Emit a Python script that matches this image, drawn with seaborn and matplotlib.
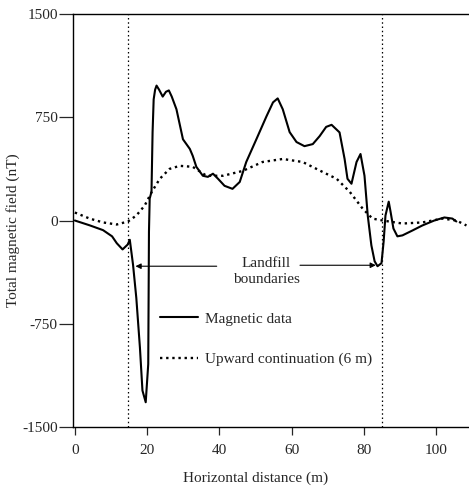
import matplotlib
matplotlib.use("Agg")
import matplotlib.pyplot as plt
import seaborn as sns
import pandas as pd

# ---- data ----
mag_x = [0, 4.1, 7.8, 10.3, 11.6, 13.2, 14.6, 15.2, 16.1, 17.0, 18.0, 18.7, 19.6,
         20.3, 20.4, 20.5, 20.7, 21.2, 21.5, 21.8, 22.2, 22.6, 23.3, 24.3, 25.2, 26.0,
         26.8, 28.1, 29.9, 31.8, 32.6, 33.6, 35.4, 36.8, 38.2, 39.6, 41.4, 43.6, 45.6,
         47.4, 50.2, 53.0, 54.8, 56.1, 57.5, 59.4, 61.3, 63.5, 65.8, 67.7, 69.5, 71.0,
         73.2, 74.6, 75.4, 76.5, 77.9, 79.0, 80.1, 81.0, 82.0, 82.9, 83.7, 84.8, 85.4,
         85.9, 86.8, 87.3, 88.1, 89.2, 90.6, 93.4, 96.1, 99.4, 102.2, 104.4, 105.5]
mag_y = [0, -35, -70, -115, -165, -210, -175, -140, -322, -562, -923, -1235, -1320,
         -1043, -562, -82, 159, 209, 641, 880, 950, 980, 950, 900, 935, 945,
         900, 808, 590, 520, 470, 390, 325, 317, 340, 303, 252, 230, 280,
         425, 590, 757, 858, 887, 808, 642, 570, 540, 555, 613, 680, 695,
         640, 447, 303, 267, 425, 483, 325, 36, -180, -296, -332, -310, -151,
         36, 137, 65, -58, -115, -108, -72, -36, 0, 22, 14, -7]

up_x = [0, 4.1, 7.8, 11.6, 14.7, 17.0, 19.3, 21.3, 23.5, 26.2, 29.0, 32.6, 36.4,
        41.0, 46.4, 51.9, 57.5, 63.0, 68.5, 72.4, 76.0, 79.6, 82.3, 85.1, 90.6,
        96.1, 101.7, 105.5, 108.3]
up_y = [58, 14, -14, -29, -7, 36, 108, 209, 303, 375, 397, 390, 325,
        325, 360, 425, 447, 425, 353, 303, 209, 86, 14, 0, -22,
        -14, 14, 0, -36]

boundaries = [14.7, 85.0]
x_ticks = [0, 20, 40, 60, 80, 100]
y_ticks = [-1500, -750, 0, 750, 1500]
series_labels = ["Magnetic data", "Upward continuation (6 m)"]

sns.set_style("ticks")
plt.rcParams["font.family"] = ["Liberation Serif", "DejaVu Serif"]
plt.rcParams["font.size"] = 11
plt.rcParams["axes.unicode_minus"] = False

fig = plt.figure(figsize=(4.69, 4.91), dpi=100)
ax = fig.add_axes([0.1557, 0.1303, 0.8443, 0.8412])

df_mag = pd.DataFrame({"x": mag_x, "y": mag_y})
df_up = pd.DataFrame({"x": up_x, "y": up_y})

sns.lineplot(data=df_mag, x="x", y="y", ax=ax, color="black", lw=1.5,
             label=series_labels[0], sort=False, estimator=None)
sns.lineplot(data=df_up, x="x", y="y", ax=ax, color="black", lw=1.7,
             linestyle=(0, (1, 1.6)), label=series_labels[1], sort=False, estimator=None)

for b in boundaries:
    ax.axvline(b, color="black", lw=0.9, linestyle=(0, (1.2, 2.2)))

ax.set_xlim(-0.5, 109)
ax.set_ylim(-1500, 1500)
ax.set_xticks(x_ticks)
ax.set_yticks(y_ticks)
ax.tick_params(axis="y", length=10, width=0.9, pad=1, labelsize=11)
ax.tick_params(axis="x", length=6, width=0.9, pad=6, labelsize=11)

for s in ["left", "top", "bottom"]:
    ax.spines[s].set_linewidth(1.0)
    ax.spines[s].set_color("black")
ax.spines["right"].set_visible(False)

ax.set_xlabel("Horizontal distance (m)", fontsize=11)
ax.xaxis.set_label_coords(0.46, -0.108)
ax.set_ylabel("Total magnetic field (nT)", fontsize=11)
ax.yaxis.set_label_coords(-0.134, 0.477)

# annotation for landfill boundaries
ax.text(53, -372, "Landfill\nboundaries", ha="center", va="center",
        fontsize=11, linespacing=1.3)
ax.annotate("", xy=(16.0, -332), xytext=(40, -332),
            arrowprops=dict(arrowstyle="-|>", lw=0.8, color="black", mutation_scale=8))
ax.annotate("", xy=(84.0, -325), xytext=(61.5, -325),
            arrowprops=dict(arrowstyle="-|>", lw=0.8, color="black", mutation_scale=8))

leg = ax.legend(frameon=False, loc="upper left", bbox_to_anchor=(0.184, 0.312),
                handlelength=2.5, labelspacing=1.75, fontsize=11, handletextpad=0.5)

fig.savefig("out.png", dpi=100)
